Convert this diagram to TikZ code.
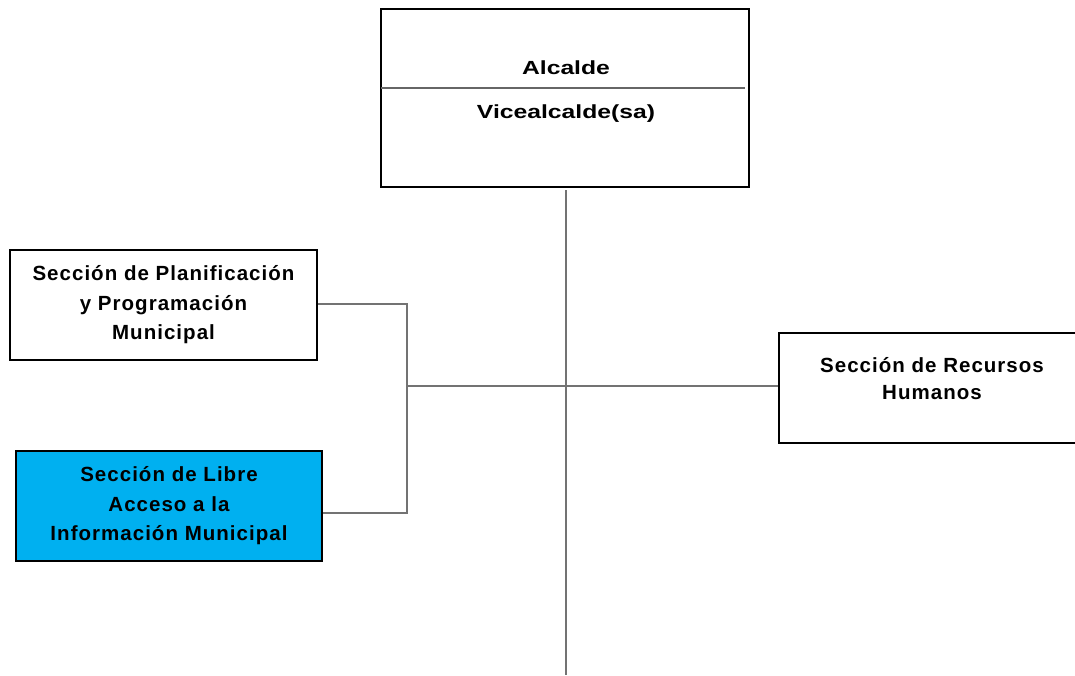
\documentclass[tikz,border=0pt]{standalone}
\usepackage{fontspec}
\setmainfont{Liberation Sans}
\tikzset{
  boxst/.style={draw=black, line width=2.5pt, rectangle, inner sep=0pt, align=center,
    font=\fontsize{20.5}{29.5}\selectfont\bfseries\addfontfeatures{LetterSpace=5}},
  conn/.style={draw=black!55, line width=1.5pt},
  toptext/.style={inner sep=0pt, anchor=base, font=\fontsize{19}{22}\selectfont\bfseries}
}
\begin{document}
\begin{tikzpicture}[x=1pt,y=-1pt]
\useasboundingbox (0,0) rectangle (1075,675);
\clip (0,0) rectangle (1075,675);
% top box
\node[boxst, minimum width=368, minimum height=178] (top) at (565,98) {};
\node[toptext] (alc) at (566,74) {\scalebox{1.3}[1]{Alcalde}};
\node[toptext] (vice) at (566,118) {\scalebox{1.3}[1]{Vicealcalde(sa)}};
\coordinate (sepL) at (381,88);
\coordinate (sepR) at (745,88);
\draw[black!60, line width=1.2pt] (sepL) -- (sepR);
% left boxes
\node[boxst, minimum width=307, minimum height=110] (plan) at (163.5,305)
  {Sección de Planificación\\y Programación\\Municipal};
\node[boxst, fill={rgb,255:red,0;green,176;blue,240}, minimum width=306, minimum height=110] (libre) at (169,506)
  {Sección de Libre\\Acceso a la\\Información Municipal};
% right box
\node[boxst, minimum width=306, minimum height=110] (rrhh) at (932,388) {};
\node[inner sep=0pt, align=center,
  font=\fontsize{20.5}{27}\selectfont\bfseries\addfontfeatures{LetterSpace=5}] (rrhhtxt) at (932,379)
  {Sección de Recursos\\Humanos};
% connectors
\coordinate (j1) at (407,304);
\coordinate (j2) at (407,513);
\coordinate (jm) at (407,386);
\coordinate (topstart) at (566,190);
\coordinate (bottom) at (566,675);
\draw[conn] (topstart) -- (bottom);
\draw[conn] (j1 -| plan.east) -- (j1) -- (j2) -- (j2 -| libre.east);
\draw[conn] (jm) -- (jm -| rrhh.west);
\end{tikzpicture}
\end{document}
